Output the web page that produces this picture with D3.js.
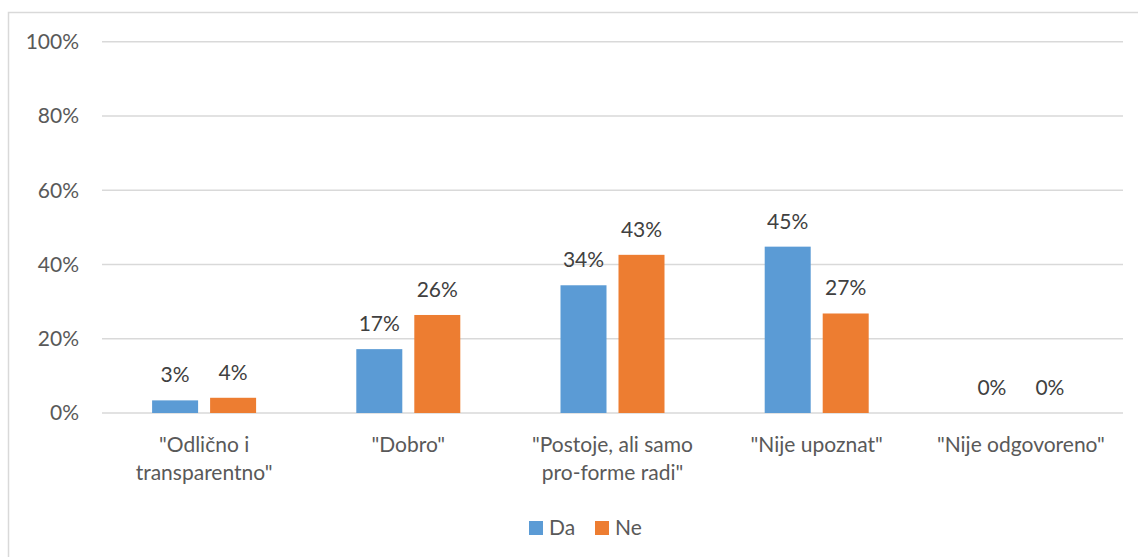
<!DOCTYPE html>
<html><head><meta charset="utf-8">
<script src="https://cdn.jsdelivr.net/npm/d3@7"></script>
<style>html,body{margin:0;padding:0;background:#fff;} svg{display:block;}</style>
</head><body>
<svg id="c" width="1138" height="557"></svg>
<script>
const categories = [["\"Odlično i","transparentno\""],["\"Dobro\""],["\"Postoje, ali samo","pro-forme radi\""],["\"Nije upoznat\""],["\"Nije odgovoreno\""]];
const seriesNames = ["Da","Ne"];
const da = [3.4, 17.2, 34.4, 44.8, 0];
const ne = [4.1, 26.4, 42.6, 26.8, 0];
const yTicks = [0,20,40,60,80,100];
const colors = ["#5b9bd5","#ed7d31"];
const font = "Lato, 'Open Sans', sans-serif";
const fs = 21;

const svg = d3.select("#c");
svg.append("rect").attr("x",8.5).attr("y",12.5).attr("width",1140).attr("height",560)
  .attr("fill","#fff").attr("stroke","#d9d9d9").attr("stroke-width",1.5);

const x0 = d3.scaleBand().domain(d3.range(categories.length)).range([102,1123]).paddingInner(0).paddingOuter(0);
const y = d3.scaleLinear().domain([0,100]).range([413,41.7]);
const bw = 46, gap = 12;

const g = svg.append("g");
g.selectAll("line.grid").data(yTicks).join("line")
  .attr("x1",102).attr("x2",1123).attr("y1",d=>y(d)).attr("y2",d=>y(d))
  .attr("stroke","#d9d9d9").attr("stroke-width",1.5);
g.selectAll("text.yt").data(yTicks).join("text")
  .attr("x",79).attr("y",d=>y(d)).attr("dy","0.35em").attr("text-anchor","end")
  .attr("font-family",font).attr("font-size",fs).attr("fill","#595959").text(d=>d+"%");

const series = [da, ne];
series.forEach((vals, si) => {
  const off = si===0 ? -(gap/2+bw) : gap/2;
  g.selectAll("rect.s"+si).data(vals).join("rect")
    .attr("x",(d,i)=>x0(i)+x0.bandwidth()/2+off).attr("width",bw)
    .attr("y",d=>y(d)).attr("height",d=>y(0)-y(d)).attr("fill",colors[si]);
  g.selectAll("text.l"+si).data(vals).join("text")
    .attr("x",(d,i)=>x0(i)+x0.bandwidth()/2+off+bw/2).attr("y",d=>y(d)-18)
    .attr("text-anchor","middle").attr("font-family",font).attr("font-size",fs).attr("fill","#404040")
    .text(d=>Math.round(d)+"%");
});

categories.forEach((lines,i)=>{
  const t = g.append("text").attr("text-anchor","middle").attr("font-family",font).attr("font-size",fs).attr("fill","#595959");
  lines.forEach((ln,j)=>t.append("tspan").attr("x",x0(i)+x0.bandwidth()/2).attr("y",452+j*27.5).text(ln));
});

const leg = svg.append("g");
const legX = [529, 595];
seriesNames.forEach((n,i)=>{
  leg.append("rect").attr("x",legX[i]).attr("y",521).attr("width",14).attr("height",14).attr("fill",colors[i]);
  leg.append("text").attr("x",legX[i]+20).attr("y",528).attr("dy","0.35em").attr("font-family",font).attr("font-size",fs).attr("fill","#595959").text(n);
});
</script>
</body></html>
